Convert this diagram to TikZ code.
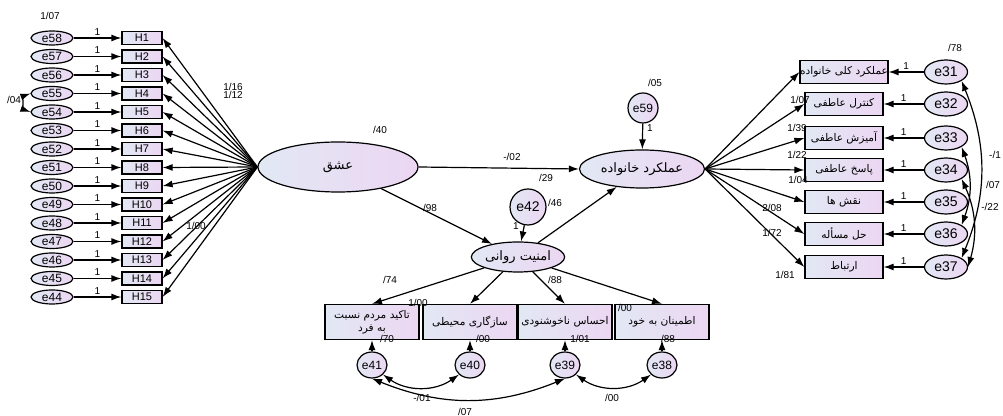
\documentclass[tikz,border=0pt]{standalone}
\usepackage{fontspec}
\setmainfont{Liberation Sans}
\newfontfamily\arfont[Script=Arabic]{DejaVu Sans}
\TeXXeTstate=1
\usepackage{tikz}
\usetikzlibrary{shapes.geometric,arrows.meta,positioning}

\definecolor{semblue}{RGB}{226,232,244}
\definecolor{semlav}{RGB}{236,214,242}

\tikzset{
    shade box/.style={draw,line width=0.6pt,left color=semblue,right color=semlav},
    latent/.style={shade box,ellipse,inner sep=0pt,font=\fontsize{6.5}{7.5}\selectfont},
    errvar/.style={shade box,ellipse,inner sep=0pt,font=\fontsize{6}{7}\selectfont},
    hbox/.style={shade box,rectangle,inner sep=0pt,minimum width=20pt,minimum height=6.5pt,font=\fontsize{5.5}{6}\selectfont},
    fbox/.style={shade box,rectangle,inner sep=0pt,minimum width=39pt,minimum height=11.5pt,font=\fontsize{5.3}{6}\selectfont\arfont},
    sbox/.style={shade box,rectangle,inner sep=0pt,minimum width=47pt,minimum height=17.5pt,align=center,font=\fontsize{5.3}{6.5}\selectfont\arfont},
    reg/.style={-{Latex[length=5pt,width=3.5pt]},line width=0.6pt},
    cov/.style={{Latex[length=5pt,width=3.5pt]}-{Latex[length=5pt,width=3.5pt]},line width=0.6pt},
    lbl/.style={inner sep=0pt,font=\fontsize{5}{6}\selectfont}
}

\begin{document}
\begin{tikzpicture}[x=0.5pt,y=-0.5pt]
    \useasboundingbox (0,0) rectangle (1003,416);

    % latent variables
    \node[latent,minimum width=80pt,minimum height=25pt] (love) at (338,167) {\arfont\beginR عشق\endR};
    \node[latent,minimum width=62.5pt,minimum height=19pt] (family) at (642,169) {\arfont\beginR عملکرد خانواده\endR};
    \node[latent,minimum width=37.5pt,minimum height=15pt] (security) at (518,257) {\arfont\beginR امنیت روانی\endR};

    % disturbances
    \node[errvar,minimum width=15pt,minimum height=15pt] (e59) at (643,108) {e59};
    \node[errvar,minimum width=18pt,minimum height=18pt,font=\fontsize{7}{8}\selectfont] (e42) at (528,207) {e42};

    \draw[reg] (e59) -- (family);
    \draw[reg] (e42) -- (security);
    \draw[reg] (love.east) -- (family.west);
    \draw[reg] (love) -- (security);
    \draw[reg] (security) -- (family);

    % items H1 ... H15 with their errors
    \foreach \i in {1,...,15}{
        \pgfmathtruncatemacro{\en}{59-\i}
        \node[errvar,minimum width=21pt,minimum height=7pt] (e\en) at (52,{38+(\i-1)*18.5}) {e\en};
        \node[hbox] (H\i) at (142,{38+(\i-1)*18.5}) {H\i};
        \draw[reg] (e\en) -- (H\i) node[lbl,midway,above=1pt] {1};
        \draw[reg] (love.west) -- (H\i.east);
    }
    \draw[cov] (e55.west) to[bend right=70] (e54.west);

    % family functioning items
    \foreach \i/\y/\txt in {1/72/عملکرد کلی خانواده,2/104/کنترل عاطفی,3/138/آمیزش عاطفی,4/170/پاسخ عاطفی,5/202/نقش ها,6/234/حل مسأله,7/267/ارتباط}{
        \pgfmathtruncatemacro{\en}{30+\i}
        \node[fbox] (f\i) at (844,\y) {\beginR \txt\endR};
        \node[errvar,minimum width=21.5pt,minimum height=12pt,font=\fontsize{7}{8}\selectfont] (e\en) at (946,\y) {e\en};
        \draw[reg] (e\en) -- (f\i) node[lbl,midway,above=1pt] {1};
        \draw[reg] (family.east) -- (f\i.west);
    }
    \draw[cov] (e31.south east) to[bend left=22] (e37.north east);
    \draw[cov] (e33.south east) to[bend left=20] (e36.north east);
    \draw[cov] (e34.south east) to[bend left=20] (e37.east);

    % psychological security items
    \foreach \i/\x/\en/\txt in {1/372/41/{\beginR تاکید مردم نسبت\endR\\\beginR به فرد\endR},2/470/40/{\beginR سازگاری محیطی\endR},3/565/39/{\beginR احساس ناخوشنودی\endR},4/662/38/{\beginR اطمینان به خود\endR}}{
        \node[sbox] (b\i) at (\x,322) {\txt};
        \node[errvar,minimum width=15pt,minimum height=13pt] (e\en) at (\x,365) {e\en};
        \draw[reg] (e\en.north) -- (e\en |- b\i.south);
        \draw[reg] (security) -- (b\i.north);
    }
    \draw[cov] (e41.south east) to[bend right=35] (e40.south west);
    \draw[cov] (e41.south) to[bend right=22] (e39.south);
    \draw[cov] (e39.south east) to[bend right=35] (e38.south west);

    % estimates
    \foreach \lx/\ly/\t [count=\k] in {50/16/1{/}07, 14/100/{/}04, 233/87/1{/}16, 233/95/1{/}12, 196/226/1{/}00,
        380/130/{/}40, 512/157/-{/}02, 546/178/{/}29, 430/208/{/}98, 555/203/{/}46, 516/226/1, 655/83/{/}05, 650/128/1,
        390/280/{/}74, 555/280/{/}88, 418/303/1{/}00, 625/308/{/}00, 387/339/{/}70, 483/339/{/}00, 580/339/1{/}01, 668/339/{/}88,
        422/398/-{/}01, 465/412/{/}07, 612/398/{/}00,
        955/48/{/}78, 800/100/1{/}07, 797/128/1{/}39, 797/155/1{/}22, 798/180/1{/}04, 772/208/2{/}08, 772/233/1{/}72, 785/275/1{/}81,
        995/155/-{/}1, 993/185/{/}07, 990/207/-{/}22}{
        \node[lbl] (est\k) at (\lx,\ly) {\t};
    }
\end{tikzpicture}
\end{document}
